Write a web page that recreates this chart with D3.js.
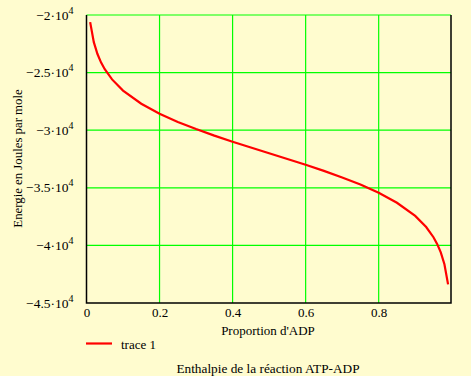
<!DOCTYPE html>
<html>
<head>
<meta charset="utf-8">
<script src="https://cdn.jsdelivr.net/npm/d3@7"></script>
<style>
	body { margin: 0; background: #fffccf; }
	svg { display: block; font-family: "Liberation Serif", "DejaVu Serif", serif; }
</style>
</head>
<body>
<svg id="chart" width="471" height="376"></svg>
<script>
// proportion d'ADP and enthalpy
var proportion = [0.01, 0.02, 0.03, 0.04, 0.05, 0.07, 0.1, 0.15, 0.2, 0.25, 0.3, 0.35, 0.4, 0.45, 0.5,
	0.55, 0.6, 0.65, 0.7, 0.75, 0.8, 0.85, 0.9, 0.93, 0.95, 0.96, 0.97, 0.98, 0.99];
var energie = [-20620, -22360, -23390, -24130, -24710, -25590, -26560, -27700, -28570, -29280, -29900, -30470, -31000, -31500, -32000,
	-32500, -33000, -33530, -34100, -34720, -35430, -36300, -37440, -38410, -39290, -39870, -40610, -41640, -43380];
var xTicks = [0, 0.2, 0.4, 0.6, 0.8];
var yTicks = [-20000, -25000, -30000, -35000, -40000, -45000];
var yTickLabels = ["\u22122", "\u22122.5", "\u22123", "\u22123.5", "\u22124", "\u22124.5"];

var margin = {left: 86.5, top: 15, right: 20, bottom: 73};
var width = 471 - margin.left - margin.right;
var height = 376 - margin.top - margin.bottom;

var svg = d3.select("#chart");
var g = svg.append("g").attr("transform", "translate(" + margin.left + "," + margin.top + ")");

var xScale = d3.scaleLinear().domain([0, 0.998]).range([0, width]);
var yScale = d3.scaleLinear().domain([-45000, -20000]).range([height, 0]);

// grid
g.selectAll(".vgrid").data(xTicks.slice(1))
	.enter().append("line")
	.attr("x1", d => xScale(d)).attr("x2", d => xScale(d))
	.attr("y1", 0).attr("y2", height)
	.attr("stroke", "#00ff00").attr("stroke-width", 1.2);
g.selectAll(".hgrid").data(yTicks.slice(0, -1))
	.enter().append("line")
	.attr("x1", 0).attr("x2", width)
	.attr("y1", d => yScale(d)).attr("y2", d => yScale(d))
	.attr("stroke", "#00ff00").attr("stroke-width", 1.2);

// frame: left, bottom, right black
g.append("path")
	.attr("d", "M0,0V" + height + "H" + width + "V0")
	.attr("fill", "none").attr("stroke", "#000").attr("stroke-width", 1.5);

// x axis labels
var xAxis = d3.axisBottom(xScale).tickValues(xTicks).tickSize(0).tickPadding(5)
	.tickFormat(d => d === 0 ? "0" : d3.format(".1f")(d));
var xg = g.append("g").attr("transform", "translate(0," + height + ")").call(xAxis);
xg.select(".domain").remove();
xg.selectAll("text").attr("font-size", 13).attr("fill", "#000")
	.attr("font-family", "Liberation Serif, serif");

// y axis labels with 10^4
var yg = g.selectAll(".ylab").data(yTicks).enter().append("text")
	.attr("x", -13).attr("y", d => yScale(d) + 4.5)
	.attr("text-anchor", "end").attr("font-size", 13.5).attr("fill", "#000");
yg.append("tspan").text((d, i) => yTickLabels[i] + "\u00b710");
yg.append("tspan").attr("dy", -6).attr("font-size", 10).text("4");

// curve
var line = d3.line()
	.x((d, i) => xScale(proportion[i]))
	.y(d => yScale(d));
g.append("path").datum(energie)
	.attr("d", line)
	.attr("fill", "none").attr("stroke", "#ff0000").attr("stroke-width", 2.2);

// titles
svg.append("text").attr("x", 19).attr("y", 158.5)
	.attr("transform", "rotate(-90,19,158.5)")
	.attr("text-anchor", "middle").attr("dominant-baseline", "middle")
	.attr("font-size", 12.8).text("Energie en Joules par mole");
svg.append("text").attr("x", 268).attr("y", 335)
	.attr("text-anchor", "middle").attr("font-size", 13).text("Proportion d'ADP");
svg.append("line").attr("x1", 86).attr("x2", 112).attr("y1", 343.5).attr("y2", 343.5)
	.attr("stroke", "#ff0000").attr("stroke-width", 2.2);
svg.append("text").attr("x", 121).attr("y", 349).attr("font-size", 13).text("trace 1");
svg.append("text").attr("x", 268).attr("y", 373)
	.attr("text-anchor", "middle").attr("font-size", 13.3).text("Enthalpie de la r\u00e9action ATP-ADP");
</script>
</body>
</html>
